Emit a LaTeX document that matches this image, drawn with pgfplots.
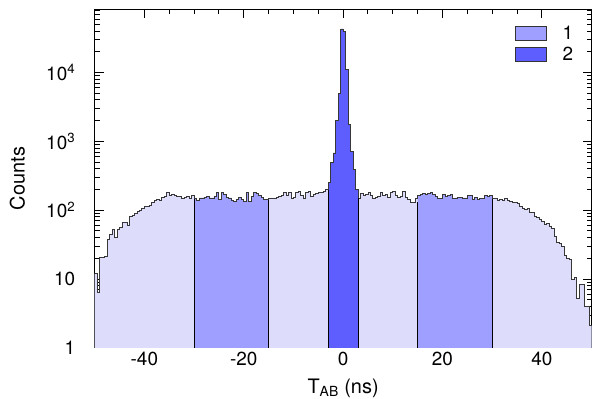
\documentclass[border=0pt]{standalone}
\usepackage{fontspec}
\setmainfont{TeX Gyre Heros}
\usepackage{pgfplots}
\pgfplotsset{compat=1.18}
\usepackage{pgfplotstable}

\definecolor{lightfill}{RGB}{221,221,251}
\definecolor{medfill}{RGB}{159,159,255}
\definecolor{darkfill}{RGB}{94,94,255}
\definecolor{outl}{RGB}{55,55,55}

\pgfplotstableread{
x y
-50.0 12
-49.5 6.5
-49.0 20.5
-48.5 20.5
-48.0 21
-47.5 38
-47.0 45
-46.5 52
-46.0 40
-45.5 52
-45.0 57
-44.5 67
-44.0 67
-43.5 60
-43.0 82
-42.5 85
-42.0 90
-41.5 95
-41.0 100
-40.5 108
-40.0 112
-39.5 115
-39.0 118
-38.5 128
-38.0 140
-37.5 143
-37.0 140
-36.5 155
-36.0 158
-35.5 179
-35.0 165
-34.5 169
-34.0 165
-33.5 160
-33.0 158
-32.5 151
-32.0 155
-31.5 160
-31.0 147
-30.5 163
-30.0 147
-29.5 139
-29.0 151
-28.5 151
-28.0 155
-27.5 160
-27.0 151
-26.5 151
-26.0 160
-25.5 179
-25.0 143
-24.5 179
-24.0 169
-23.5 155
-23.0 151
-22.5 140
-22.0 135
-21.5 143
-21.0 155
-20.5 143
-20.0 135
-19.5 179
-19.0 135
-18.5 160
-18.0 179
-17.5 175
-17.0 163
-16.5 155
-16.0 145
-15.5 143
-15.0 147
-14.5 151
-14.0 151
-13.5 155
-13.0 160
-12.5 163
-12.0 179
-11.5 165
-11.0 182
-10.5 151
-10.0 155
-9.5 179
-9.0 188
-8.5 165
-8.0 151
-7.5 179
-7.0 188
-6.5 160
-6.0 169
-5.5 175
-5.0 179
-4.5 182
-4.0 190
-3.5 200
-3.0 250
-2.5 487
-2.0 680
-1.5 2000
-1.0 5000
-0.5 43000
0.0 39000
0.5 11000
1.0 1740
1.5 716
2.0 390
2.5 200
3.0 150
3.5 175
4.0 165
4.5 169
5.0 179
5.5 163
6.0 151
6.5 155
7.0 160
7.5 179
8.0 163
8.5 169
9.0 155
9.5 179
10.0 188
10.5 163
11.0 155
11.5 160
12.0 188
12.5 155
13.0 143
13.5 128
14.0 130
14.5 147
15.0 165
15.5 172
16.0 175
16.5 169
17.0 175
17.5 182
18.0 169
18.5 160
19.0 147
19.5 147
20.0 169
20.5 160
21.0 165
21.5 169
22.0 147
22.5 151
23.0 155
23.5 155
24.0 151
24.5 151
25.0 163
25.5 165
26.0 143
26.5 155
27.0 143
27.5 147
28.0 147
28.5 165
29.0 160
29.5 165
30.0 147
30.5 147
31.0 139
31.5 142
32.0 139
32.5 147
33.0 140
33.5 135
34.0 132
34.5 130
35.0 125
35.5 114
36.0 108
36.5 102
37.0 106
37.5 94
38.0 92
38.5 80
39.0 78
39.5 74
40.0 69
40.5 62
41.0 64
41.5 59
42.0 55
42.5 42
43.0 34
43.5 33
44.0 30
44.5 22
45.0 20
45.5 19
46.0 10
46.5 10.5
47.0 5.2
47.5 8.4
48.0 8.4
48.5 4.0
49.0 4.0
49.5 2.1
50.0 2.1
}\histdata

\begin{document}
\begin{tikzpicture}
\begin{axis}[
  scale only axis, width=497bp, height=338.7bp,
  xmin=-50, xmax=50, ymode=log, ymin=1, ymax=83000,
  axis line style={line width=1bp},
  tick align=inside, tick pos=both,
  major tick length=9bp, minor tick length=5bp,
  tick style={black, line width=0.9bp},
  xtick={-40,-20,0,20,40}, xticklabels={-40,-20,0,20,40},
  minor x tick num=3,
  ytick={1,10,100,1000,10000},
  yticklabels={1,10,10\textsuperscript{2},10\textsuperscript{3},10\textsuperscript{4}},
  minor ytick={2,3,4,5,6,7,8,9,20,30,40,50,60,70,80,90,200,300,400,500,600,700,800,900,2000,3000,4000,5000,6000,7000,8000,9000,20000,30000,40000,50000,60000,70000,80000},
  ticklabel style={font=\fontsize{19}{22}\selectfont},
  yticklabel style={anchor=east, xshift=-16bp},
  xticklabel style={yshift=-1bp},
  xlabel={T\textsubscript{AB} (ns)},
  ylabel={Counts},
  xlabel style={font=\fontsize{20}{24}\selectfont, at={(axis description cs:0.5,0)}, anchor=base, yshift=-46bp},
  ylabel style={font=\fontsize{20}{24}\selectfont, at={(axis description cs:-0.141,0.5)}, anchor=base, rotate=0},
  legend style={at={(0.8457,0.9516)}, anchor=north west, draw=none, fill=none,
    inner sep=0pt, outer sep=0pt, nodes={inner sep=0pt}, row sep=5.7bp, column sep=16bp,
    font=\fontsize{19}{22}\selectfont},
  legend cell align=left,
]
\addplot[const plot, fill=lightfill, draw=none, forget plot] table[x=x,y=y]{\histdata} \closedcycle;
\addplot[const plot, fill=medfill, draw=none, forget plot, restrict x to domain=-30.01:-14.99] table[x=x,y=y]{\histdata} \closedcycle;
\addplot[const plot, fill=medfill, draw=none, forget plot, restrict x to domain=14.99:30.01] table[x=x,y=y]{\histdata} \closedcycle;
\addplot[const plot, fill=darkfill, draw=none, forget plot, restrict x to domain=-3.01:3.01] table[x=x,y=y]{\histdata} \closedcycle;
\addplot[const plot, draw=outl, line width=0.8bp, forget plot] table[x=x,y=y]{\histdata};
\addplot[black, line width=0.8bp, forget plot] coordinates {(-30,1) (-30,147)};
\addplot[black, line width=0.8bp, forget plot] coordinates {(-15,1) (-15,143)};
\addplot[black, line width=0.8bp, forget plot] coordinates {(-3,1) (-3,200)};
\addplot[black, line width=0.8bp, forget plot] coordinates {(3,1) (3,150)};
\addplot[black, line width=0.8bp, forget plot] coordinates {(15,1) (15,130)};
\addplot[black, line width=0.8bp, forget plot] coordinates {(30,1) (30,147)};
\addlegendimage{legend image code/.code={\draw[fill=medfill, draw=black!80, line width=0.8bp] (0bp,-7.3bp) rectangle (31bp,7.3bp);}}
\addlegendentry{1}
\addlegendimage{legend image code/.code={\draw[fill=darkfill, draw=black!80, line width=0.8bp] (0bp,-7.3bp) rectangle (31bp,7.3bp);}}
\addlegendentry{2}
\end{axis}
\pgfresetboundingbox
\path[use as bounding box] ([shift={(-94.7bp,-51bp)}]current axis.south west) rectangle ([shift={(0.5bp,9.3bp)}]current axis.north east);
\end{tikzpicture}
\end{document}
